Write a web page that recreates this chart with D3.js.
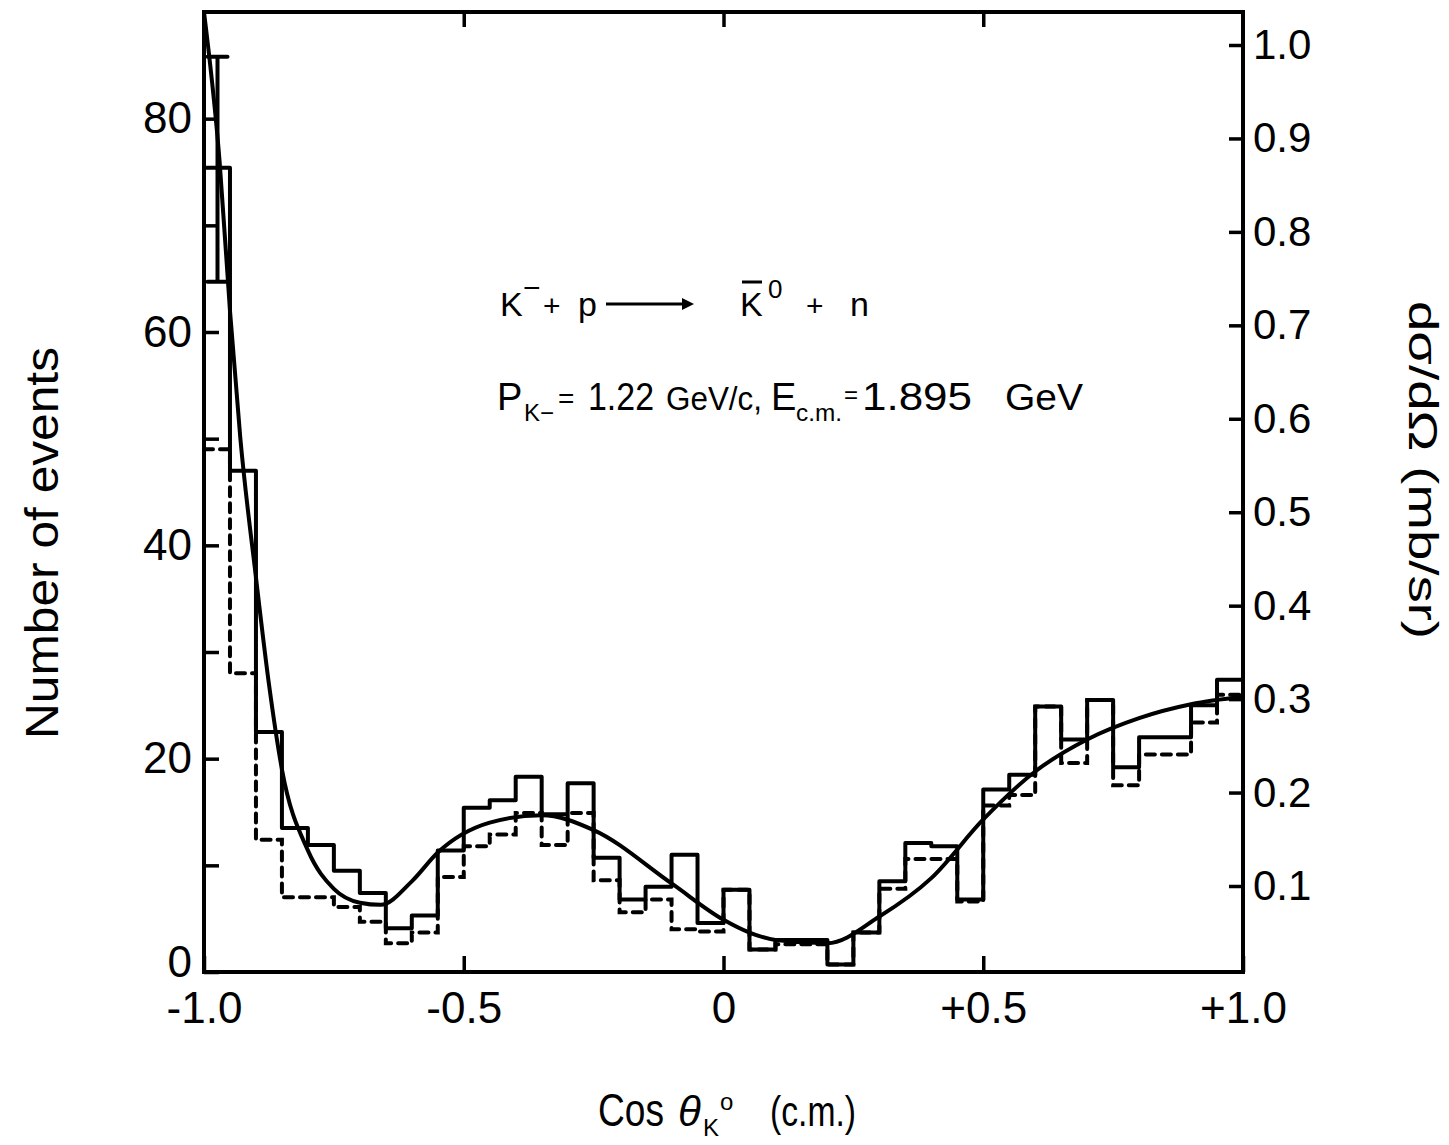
<!DOCTYPE html>
<html>
<head>
<meta charset="utf-8">
<script src="https://cdn.jsdelivr.net/npm/d3@7"></script>
<style>
  body { margin: 0; background: #fff; }
  text { font-family: "Liberation Sans", Arial, sans-serif; fill: #000; }
</style>
</head>
<body>
<div id="chart"></div>
<script>
// bin lower edges of cos(theta), bins are 0.05 wide
const binStart = [-1.00, -0.95, -0.90, -0.85, -0.80, -0.75, -0.70, -0.65, -0.60, -0.55,
                  -0.50, -0.45, -0.40, -0.35, -0.30, -0.25, -0.20, -0.15, -0.10, -0.05,
                   0.00,  0.05,  0.10,  0.15,  0.20,  0.25,  0.30,  0.35,  0.40,  0.45,
                   0.50,  0.55,  0.60,  0.65,  0.70,  0.75,  0.80,  0.85,  0.90,  0.95];
const binWidth = 0.05;

// solid histogram (all events)
const allEvents = [75.4, 47, 22.5, 13.5, 11.9, 9.5, 7.4, 4.1, 5.3, 11.4,
                   15.4, 16.1, 18.3, 14.8, 17.7, 10.7, 6.8, 8.0, 11.0, 4.6,
                   7.7, 2.1, 3.0, 3.0, 0.7, 3.7, 8.5, 12.1, 11.8, 6.8,
                   17.1, 18.5, 24.9, 21.8, 25.5, 19.2, 22.0, 22.0, 25.0, 27.4];

// dashed histogram
const cutEvents = [49, 28, 12.4, 7.0, 7.0, 6.1, 4.7, 2.7, 3.7, 8.9,
                   11.8, 12.9, 14.9, 11.9, 14.9, 8.6, 5.6, 6.8, 4.0, 3.8,
                   7.7, 2.1, 2.6, 2.6, 0.7, 3.7, 7.8, 10.6, 10.6, 6.6,
                   15.6, 16.6, 24.9, 19.6, 25.5, 17.5, 20.4, 20.4, 23.4, 26.0];

// fitted curve
const fitCos = [-1.0, -0.97, -0.95, -0.93, -0.90, -0.875, -0.85, -0.80, -0.75, -0.70,
                -0.66, -0.60, -0.55, -0.45, -0.35, -0.25, -0.10, 0.0, 0.05, 0.10,
                0.20, 0.30, 0.40, 0.50, 0.60, 0.70, 0.80, 0.90, 1.0];
const fitEvents = [90, 76, 62, 50, 37, 27, 19, 11.4, 7.8, 6.5,
                   6.3, 8.5, 11.2, 14.0, 14.7, 13.3, 8.3, 4.9, 3.7, 3.0,
                   2.7, 5.2, 8.8, 14.3, 18.8, 21.8, 23.8, 25.1, 25.8];

// error bar on first bin
const errCos = [-0.974];
const errLow = [64.7];
const errHigh = [85.8];

// tick labels
const leftTicks = [0, 10, 20, 30, 40, 50, 60, 70, 80];
const rightTicks = [0.1, 0.2, 0.3, 0.4, 0.5, 0.6, 0.7, 0.8, 0.9, 1.0];
const bottomTicks = [-1, -0.5, 0, 0.5, 1];
const bottomLabels = ["-1.0", "-0.5", "0", "+0.5", "+1.0"];

const W = 1449, H = 1145;
const plot = { left: 204, right: 1243, top: 12, bottom: 972 };

const svg = d3.select("#chart").append("svg")
    .attr("width", W)
    .attr("height", H);

const x = d3.scaleLinear().domain([-1, 1]).range([plot.left, plot.right]);
const y = d3.scaleLinear().domain([0, 90]).range([plot.bottom, plot.top]);
const yR = d3.scaleLinear().domain([0.1, 1.0]).range([886, 45]);

svg.append("clipPath").attr("id", "clip")
    .append("rect")
    .attr("x", plot.left).attr("y", plot.top)
    .attr("width", plot.right - plot.left)
    .attr("height", plot.bottom - plot.top);

// step path from bins
function stepPoints(vals) {
    const pts = [];
    vals.forEach((v, i) => {
        pts.push([binStart[i], v]);
        pts.push([binStart[i] + binWidth, v]);
    });
    return pts;
}
const stepLine = d3.line().x(d => x(d[0])).y(d => y(d[1]));

const g = svg.append("g").attr("clip-path", "url(#clip)");

g.append("path")
    .attr("d", stepLine(stepPoints(cutEvents)))
    .attr("fill", "none")
    .attr("stroke", "#000")
    .attr("stroke-width", 4)
    .attr("stroke-dasharray", "9,7")
    .attr("stroke-linecap", "round");

g.append("path")
    .attr("d", stepLine(stepPoints(allEvents)))
    .attr("fill", "none")
    .attr("stroke", "#000")
    .attr("stroke-width", 4)
    .attr("stroke-linejoin", "round");

// fitted curve
const fitLine = d3.line()
    .x((d, i) => x(fitCos[i]))
    .y(d => y(d))
    .curve(d3.curveMonotoneX);
g.append("path")
    .attr("d", fitLine(fitEvents))
    .attr("fill", "none")
    .attr("stroke", "#000")
    .attr("stroke-width", 4);

// error bar
errCos.forEach((c, i) => {
    g.append("line")
        .attr("x1", x(c)).attr("x2", x(c))
        .attr("y1", y(errLow[i])).attr("y2", y(errHigh[i]))
        .attr("stroke", "#000").attr("stroke-width", 4);
    [errLow[i], errHigh[i]].forEach(v => {
        g.append("line")
            .attr("x1", x(c) - 10).attr("x2", x(c) + 10)
            .attr("y1", y(v)).attr("y2", y(v))
            .attr("stroke", "#000").attr("stroke-width", 4)
            .attr("stroke-linecap", "round");
    });
});

// frame
svg.append("rect")
    .attr("x", plot.left).attr("y", plot.top)
    .attr("width", plot.right - plot.left)
    .attr("height", plot.bottom - plot.top)
    .attr("fill", "none")
    .attr("stroke", "#000")
    .attr("stroke-width", 4);

// axes
function styleAxis(sel, fs) {
    sel.select(".domain").remove();
    sel.selectAll(".tick line").attr("stroke", "#000").attr("stroke-width", 3.5);
    sel.selectAll(".tick text")
        .style("font-family", "'Liberation Sans', Arial, sans-serif")
        .style("font-size", fs + "px")
        .attr("fill", "#000");
}

svg.append("g")
    .attr("transform", `translate(${plot.left},0)`)
    .call(d3.axisLeft(y).tickValues(leftTicks).tickSize(-15).tickSizeOuter(0).tickPadding(12)
        .tickFormat(d => d % 20 === 0 ? d : ""))
    .call(s => styleAxis(s, 44))
    .call(s => s.selectAll(".tick text").filter(d => d === 0).attr("y", -10));

svg.append("g")
    .attr("transform", `translate(${plot.right},0)`)
    .call(d3.axisRight(yR).tickValues(rightTicks).tickSize(-14).tickSizeOuter(0).tickPadding(10)
        .tickFormat(d3.format(".1f")))
    .call(s => styleAxis(s, 42));

svg.append("g")
    .attr("transform", `translate(0,${plot.bottom})`)
    .call(d3.axisBottom(x).tickValues(bottomTicks).tickSize(-16).tickSizeOuter(0).tickPadding(20)
        .tickFormat((d, i) => bottomLabels[i]))
    .call(s => styleAxis(s, 44));

svg.append("g")
    .attr("transform", `translate(0,${plot.top})`)
    .call(d3.axisTop(x).tickValues([-0.5, 0, 0.5]).tickSize(-15).tickSizeOuter(0).tickFormat(""))
    .call(s => styleAxis(s, 44));

// axis titles
svg.append("text")
    .attr("transform", "translate(58,543) rotate(-90)")
    .attr("text-anchor", "middle")
    .attr("textLength", 392)
    .attr("lengthAdjust", "spacingAndGlyphs")
    .style("font-size", "46px")
    .text("Number of events");

svg.append("text")
    .attr("transform", "translate(1409,470) rotate(90)")
    .attr("text-anchor", "middle")
    .attr("textLength", 338)
    .attr("lengthAdjust", "spacingAndGlyphs")
    .style("font-size", "40px")
    .text("dσ/dΩ (mb/sr)");

// label helper
function label(tx, ty, fs, str, len) {
    const t = svg.append("text").attr("x", tx).attr("y", ty).style("font-size", fs + "px").text(str);
    if (len) t.attr("textLength", len).attr("lengthAdjust", "spacingAndGlyphs");
    return t;
}

// x axis title
label(598, 1126, 46, "Cos", 66);
label(678, 1126, 42, "θ").style("font-style", "italic");
label(703, 1136, 24, "K");
label(720, 1110, 24, "o");
label(770, 1126, 42, "(c.m.)", 86);

// reaction annotation
label(500, 316, 34, "K");
label(523, 298, 30, "\u2212");
label(543, 316, 30, "+");
label(578, 316, 34, "p");
svg.append("line").attr("x1", 606).attr("x2", 684).attr("y1", 304).attr("y2", 304)
    .attr("stroke", "#000").attr("stroke-width", 3);
svg.append("path").attr("d", "M682,298 L694,304 L682,310 Z").attr("fill", "#000");
label(740, 316, 34, "K");
svg.append("line").attr("x1", 742).attr("x2", 762).attr("y1", 282).attr("y2", 282)
    .attr("stroke", "#000").attr("stroke-width", 3);
label(768, 298, 26, "0");
label(806, 316, 30, "+");
label(850, 316, 34, "n");

label(497, 410, 38, "P");
label(524, 421, 24, "K\u2212");
label(558, 408, 28, "=");
label(588, 410, 38, "1.22", 66);
label(666, 410, 33, "GeV/c,", 96);
label(771, 410, 38, "E");
label(796, 421, 24, "c.m.", 46);
label(844, 403, 24, "=");
label(862, 410, 38, "1.895", 110);
label(1005, 410, 36, "GeV", 78);
</script>
</body>
</html>
